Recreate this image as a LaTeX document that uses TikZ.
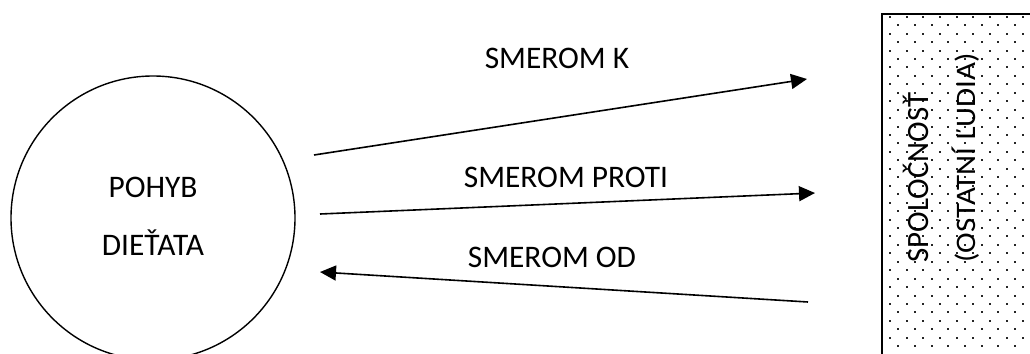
\documentclass[tikz,border=0pt]{standalone}
\usepackage{fontspec}
\setmainfont{Carlito}
\usetikzlibrary{arrows.meta}

\tikzset{
  lbl/.style={inner sep=0pt, anchor=base, font=\fontsize{15.7}{18}\selectfont},
  vlbl/.style={inner sep=0pt, rotate=90, anchor=base west, font=\fontsize{15.5}{18}\selectfont},
  flow/.style={line width=0.8pt, -{Triangle[length=8pt, width=7.5pt]}},
  dotmark/.style={fill=black!85},
}

\begin{document}
\begin{tikzpicture}[x=0.5pt, y=-0.5pt]
  \useasboundingbox (0,0) rectangle (1030,354);
  \clip (0,0) rectangle (1030,354);

  % the child
  \node[draw, circle, line width=0.7pt, minimum size=142pt, inner sep=0pt] (child) at (153,218) {};
  \node[lbl] (childA) at (153,197) {POHYB};
  \node[lbl] (childB) at (153,255) {DIEŤATA};

  % society box with dotted fill
  \foreach \k in {0,...,40} {
    \pgfmathsetmacro\yy{16.7+8.45*\k}
    \pgfmathsetmacro\xo{mod(\k,2)==0 ? 890 : 881.7}
    \foreach \j in {0,...,9} {
      \fill[dotmark] (\xo+16.67*\j-1, \yy-1) rectangle ++(2,2);
    }
  }
  \node[draw, line width=1pt, anchor=north west, minimum width=150pt, minimum height=200pt, inner sep=0pt] (society) at (881,13) {};
  \node[vlbl] (socA) at (928,263) {SPOLOČNOSŤ};
  \node[vlbl, yscale=0.91] (socB) at (975,263) {(OSTATNÍ ĽUDIA)};

  % connector end points
  \coordinate (k1) at (314,155);
  \coordinate (k2) at (807,79);
  \coordinate (p1) at (320,214);
  \coordinate (p2) at (815,193);
  \coordinate (o1) at (808,302);
  \coordinate (o2) at (320,272);

  \draw[flow] (k1) -- (k2);
  \draw[flow] (p1) -- (p2);
  \draw[flow] (o1) -- (o2);

  \node[lbl] (lk) at (557,68) {SMEROM K};
  \node[lbl] (lp) at (566,187) {SMEROM PROTI};
  \node[lbl] (lo) at (552,267) {SMEROM OD};
\end{tikzpicture}
\end{document}
